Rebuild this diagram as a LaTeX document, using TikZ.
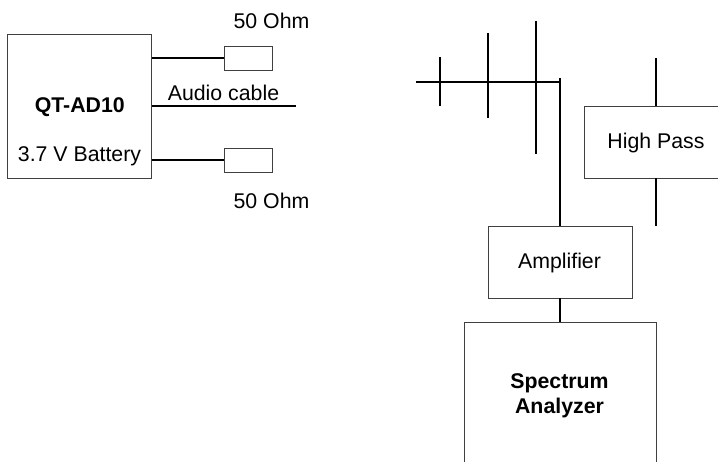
\documentclass[tikz,border=0pt]{standalone}
\usepackage{fontspec}
\setmainfont{Liberation Sans}
\begin{document}
\begin{tikzpicture}[x=1pt,y=-1pt,
  box/.style={draw=black!75,line width=0.9pt,inner sep=0pt,outer sep=0pt,align=center},
  wire/.style={draw=black,line width=1.5pt},
  thinwire/.style={draw=black,line width=1.2pt},
  lab/.style={inner sep=0pt,font=\fontsize{21.3}{25}\selectfont,align=center},
  blab/.style={lab,anchor=base}]
\useasboundingbox (0,0) rectangle (718,462);
% left block
\node[box,minimum width=144pt,minimum height=144pt] (qt) at (79.5,106) {};
\node[blab,font=\fontsize{21.3}{25}\selectfont\bfseries] (qtl) at (79.8,113) {QT-AD10};
\node[blab] (bat) at (79.5,162) {3.7 V Battery};
\node[box,minimum width=48pt,minimum height=24pt] (r1) at (248,58) {};
\node[box,minimum width=48pt,minimum height=24pt] (r2) at (248,160) {};
\coordinate (a1) at (151.5,58);
\coordinate (a2) at (151.5,106);
\coordinate (a3) at (151.5,160);
\coordinate (aend) at (296,106);
\draw[wire] (a1) -- (r1.west);
\draw[wire] (a2) -- (aend);
\draw[wire] (a3) -- (r2.west);
\node[blab] (o1) at (271.5,28.3) {50 Ohm};
\node[blab] (o2) at (271.5,208.3) {50 Ohm};
\node[blab] (ac) at (223.5,101) {Audio cable};
% antenna
\coordinate (h0) at (416,82);
\coordinate (h1) at (560,82);
\coordinate (v1a) at (440,57);
\coordinate (v1b) at (440,106);
\coordinate (v2a) at (488,33);
\coordinate (v2b) at (488,118);
\coordinate (v3a) at (536,21);
\coordinate (v3b) at (536,154);
\coordinate (feed) at (560,78);
\draw[wire] (h0) -- (h1);
\draw[thinwire] (v1a) -- (v1b);
\draw[thinwire] (v2a) -- (v2b);
\draw[thinwire] (v3a) -- (v3b);
% boxes
\node[box,minimum width=144pt,minimum height=72pt] (hp) at (656,142) {};
\node[blab] (hpl) at (656,149) {High Pass};
\node[box,minimum width=144pt,minimum height=72pt] (amp) at (560,262) {};
\node[blab] (ampl) at (559.5,269) {Amplifier};
\node[box,minimum width=192pt,minimum height=144pt] (sa) at (560,394) {};
\node[lab,font=\fontsize{21.3}{25}\selectfont\bfseries] (sal) at (559.5,395.5) {Spectrum\\Analyzer};
\coordinate (ht) at (656,58);
\coordinate (hb) at (656,226);
\draw[wire] (feed) -- (amp.north);
\draw[wire] (ht) -- (hp.north);
\draw[wire] (hp.south) -- (hb);
\draw[wire] (amp.south) -- (sa.north);
\end{tikzpicture}
\end{document}
